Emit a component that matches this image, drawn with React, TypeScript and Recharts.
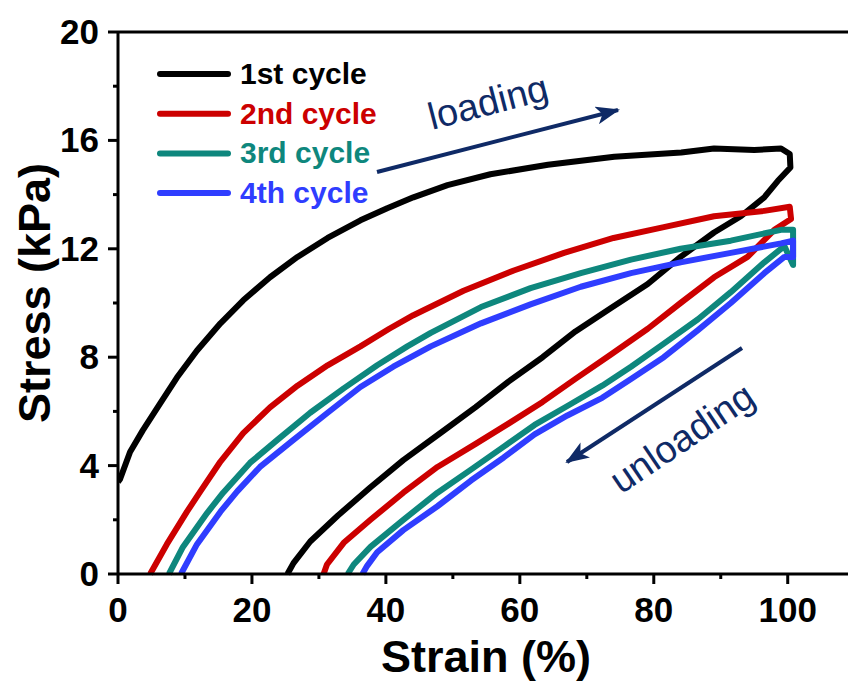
import { LineChart, Line, XAxis, YAxis, ReferenceLine } from 'recharts';

// tick values
const strainTicks = [0, 10, 20, 30, 40, 50, 60, 70, 80, 90, 100];
const stressTicks = [0, 2, 4, 6, 8, 10, 12, 14, 16, 18, 20];
const majorStrain = [0, 20, 40, 60, 80, 100];
const majorStress = [0, 4, 8, 12, 16, 20];

// [strain %, stress kPa], loading branch then unloading branch
const cycle1: [number, number][] = [
  [0, 3.4], [0.3, 3.5], [1.8, 4.5], [3.7, 5.3], [6.3, 6.3], [8.8, 7.25],
  [11.8, 8.25], [15.3, 9.25], [18.7, 10.1], [22.7, 10.95], [26.8, 11.7],
  [31.3, 12.4], [36.2, 13.05], [40.2, 13.5], [44.1, 13.9], [49.2, 14.35],
  [55.6, 14.75], [64.2, 15.1], [74.1, 15.4], [84.1, 15.55], [89, 15.7],
  [95, 15.65], [99, 15.7], [100.3, 15.5],
  [100.4, 15.0], [98.5, 14.5], [96.5, 13.9], [93, 13.2], [89, 12.6],
  [84, 11.7], [79.1, 10.7], [73.5, 9.8], [68.3, 8.95], [63.4, 8.0],
  [58.3, 7.1], [53.4, 6.16], [48.4, 5.25], [42.6, 4.2], [37.7, 3.2],
  [32.8, 2.15], [28.7, 1.2], [26.2, 0.4], [25.3, 0],
];

const cycle2: [number, number][] = [
  [4.8, 0], [7.3, 1.1], [10.3, 2.3], [12.3, 3.05], [15.3, 4.15],
  [18.7, 5.2], [22.7, 6.15], [26.8, 6.95], [31.3, 7.7], [36.2, 8.4],
  [40.5, 9.05], [44.1, 9.55], [51.6, 10.45], [59.1, 11.2], [66.6, 11.85],
  [74, 12.4], [81.5, 12.8], [89, 13.2], [96.5, 13.4], [100.3, 13.55],
  [100.5, 13.1], [98, 12.7], [94, 11.7], [89, 10.95], [84, 10.0],
  [79.1, 9.05], [73.6, 8.1], [68.3, 7.2], [63.4, 6.35], [58.3, 5.55],
  [53.4, 4.8], [47.7, 3.95], [42.6, 3.0], [37.7, 2.0], [33.7, 1.15],
  [31.2, 0.35], [30.7, 0],
];

const cycle3: [number, number][] = [
  [7.6, 0], [9.7, 1.0], [13.3, 2.25], [15.7, 3.0], [19.7, 4.1],
  [23.8, 4.95], [28.7, 5.95], [33.7, 6.85], [38.7, 7.7], [43.2, 8.4],
  [46.7, 8.9], [54.2, 9.85], [61.6, 10.55], [69.1, 11.1], [76.6, 11.6],
  [84, 12.0], [91.5, 12.3], [99, 12.7], [100.8, 12.7], [100.8, 11.4],
  [99.5, 12.1], [96.5, 11.5], [91.5, 10.4], [86.6, 9.4], [81.5, 8.5],
  [76.6, 7.65], [72.3, 6.95], [67.1, 6.2], [62.2, 5.5], [57.6, 4.7],
  [52.7, 3.85], [47.7, 3.0], [42.6, 2.0], [37.7, 1.0], [35.2, 0.35],
  [34.3, 0],
];

const cycle4: [number, number][] = [
  [9.4, 0], [11.8, 1.1], [15.3, 2.3], [17.8, 3.05], [21.2, 3.95],
  [26.2, 4.95], [31.3, 5.95], [36.2, 6.9], [41.1, 7.65], [46.7, 8.4],
  [54.2, 9.25], [61.6, 9.95], [69.1, 10.6], [76.6, 11.1], [84, 11.5],
  [91.5, 11.85], [99, 12.2], [100.8, 12.3], [100.8, 11.7],
  [99.5, 11.7], [96.5, 11.1], [91.5, 10.0], [86.6, 9.0], [81.5, 8.0],
  [76.6, 7.2], [72.3, 6.5], [67.1, 5.85], [62.2, 5.15], [57.6, 4.3],
  [52.7, 3.45], [47.7, 2.5], [42.6, 1.62], [38.7, 0.8], [37.2, 0.3],
  [36.5, 0],
];

const seriesNames = ['1st cycle', '2nd cycle', '3rd cycle', '4th cycle'];
const seriesColors = ['#000000', '#cc0000', '#0e877d', '#2f3dff'];
const seriesData = [cycle1, cycle2, cycle3, cycle4];

const FONT = '"Liberation Sans", Arial, sans-serif';
const NAVY = '#0f2a66';
const TICK_MAJOR = 10;
const TICK_MINOR = 5;
const X_MARGIN = 12;
const Y_MARGIN = 9;

function StrainTick({ x, y, payload }: any) {
  const axisY = y - TICK_MAJOR - X_MARGIN;
  const major = majorStrain.includes(payload.value);
  return (
    <g>
      <line x1={x} x2={x} y1={axisY} y2={axisY + (major ? TICK_MAJOR : TICK_MINOR)} stroke="#000" strokeWidth={3} />
      {major && (
        <text x={x} y={axisY + 48} textAnchor="middle" fontFamily={FONT} fontWeight="bold" fontSize={35} fill="#000">
          {payload.value}
        </text>
      )}
    </g>
  );
}

function StressTick({ x, y, payload }: any) {
  const axisX = x + TICK_MAJOR + Y_MARGIN;
  const major = majorStress.includes(payload.value);
  return (
    <g>
      <line x1={axisX - (major ? TICK_MAJOR : TICK_MINOR)} x2={axisX} y1={y} y2={y} stroke="#000" strokeWidth={3} />
      {major && (
        <text x={axisX - 19} y={y + 12} textAnchor="end" fontFamily={FONT} fontWeight="bold" fontSize={35} fill="#000">
          {payload.value}
        </text>
      )}
    </g>
  );
}

export default function App() {
  return (
    <div style={{ position: 'absolute', left: 0, top: 0, width: 848, height: 682, background: '#fff' }}>
      <LineChart width={848} height={682} margin={{ top: 32, right: 0, bottom: 0, left: 0 }}>
        <XAxis
          type="number"
          dataKey="strain"
          domain={[0, 109]}
          allowDataOverflow
          ticks={strainTicks}
          interval={0}
          height={108}
          tickSize={TICK_MAJOR}
          tickMargin={X_MARGIN}
          tickLine={false}
          tick={<StrainTick />}
          axisLine={{ stroke: '#000', strokeWidth: 3 }}
        />
        <YAxis
          type="number"
          dataKey="stress"
          domain={[0, 20]}
          ticks={stressTicks}
          interval={0}
          width={118}
          tickSize={TICK_MAJOR}
          tickMargin={Y_MARGIN}
          tickLine={false}
          tick={<StressTick />}
          axisLine={{ stroke: '#000', strokeWidth: 3 }}
        />
        <ReferenceLine y={20} stroke="#000" strokeWidth={3} />
        {seriesData.map((pts, i) => (
          <Line
            key={seriesNames[i]}
            name={seriesNames[i]}
            data={pts.map(([strain, stress]) => ({ strain, stress }))}
            dataKey="stress"
            type="linear"
            stroke={seriesColors[i]}
            strokeWidth={6}
            strokeLinejoin="round"
            dot={false}
            activeDot={false}
            isAnimationActive={false}
          />
        ))}
      </LineChart>
      <svg
        width={848}
        height={682}
        style={{ position: 'absolute', left: 0, top: 0, pointerEvents: 'none' }}
        fontFamily={FONT}
      >
        <defs>
          <marker id="head" markerUnits="userSpaceOnUse" markerWidth={24} markerHeight={18} refX={22} refY={9} orient="auto">
            <path d="M0,0 L24,9 L0,18 L6,9 Z" fill={NAVY} />
          </marker>
        </defs>
        {/* legend */}
        {seriesNames.map((name, i) => (
          <g key={name}>
            <line x1={160} x2={228} y1={74 + i * 39.7} y2={74 + i * 39.7} stroke={seriesColors[i]} strokeWidth={6} strokeLinecap="round" />
            <text x={240} y={74 + i * 39.7 + 10} fontSize={30} fontWeight="bold" fill={seriesColors[i]}>
              {name}
            </text>
          </g>
        ))}
        {/* axis titles */}
        <text x={486} y={672} textAnchor="middle" fontSize={45} fontWeight="bold" fill="#000">
          Strain (%)
        </text>
        <text transform="translate(50,293) rotate(-90)" textAnchor="middle" fontSize={45} fontWeight="bold" fill="#000">
          Stress (kPa)
        </text>
        {/* loading / unloading annotations */}
        <line x1={377} y1={172} x2={618} y2={110} stroke={NAVY} strokeWidth={4} markerEnd="url(#head)" />
        <text transform="translate(488,102) rotate(-14.5)" textAnchor="middle" dominantBaseline="central" fontSize={38} fill={NAVY}>
          loading
        </text>
        <line x1={742} y1={348} x2={567} y2={462} stroke={NAVY} strokeWidth={4} markerEnd="url(#head)" />
        <text transform="translate(682,438) rotate(-34)" textAnchor="middle" dominantBaseline="central" fontSize={38} fill={NAVY}>
          unloading
        </text>
      </svg>
    </div>
  );
}
